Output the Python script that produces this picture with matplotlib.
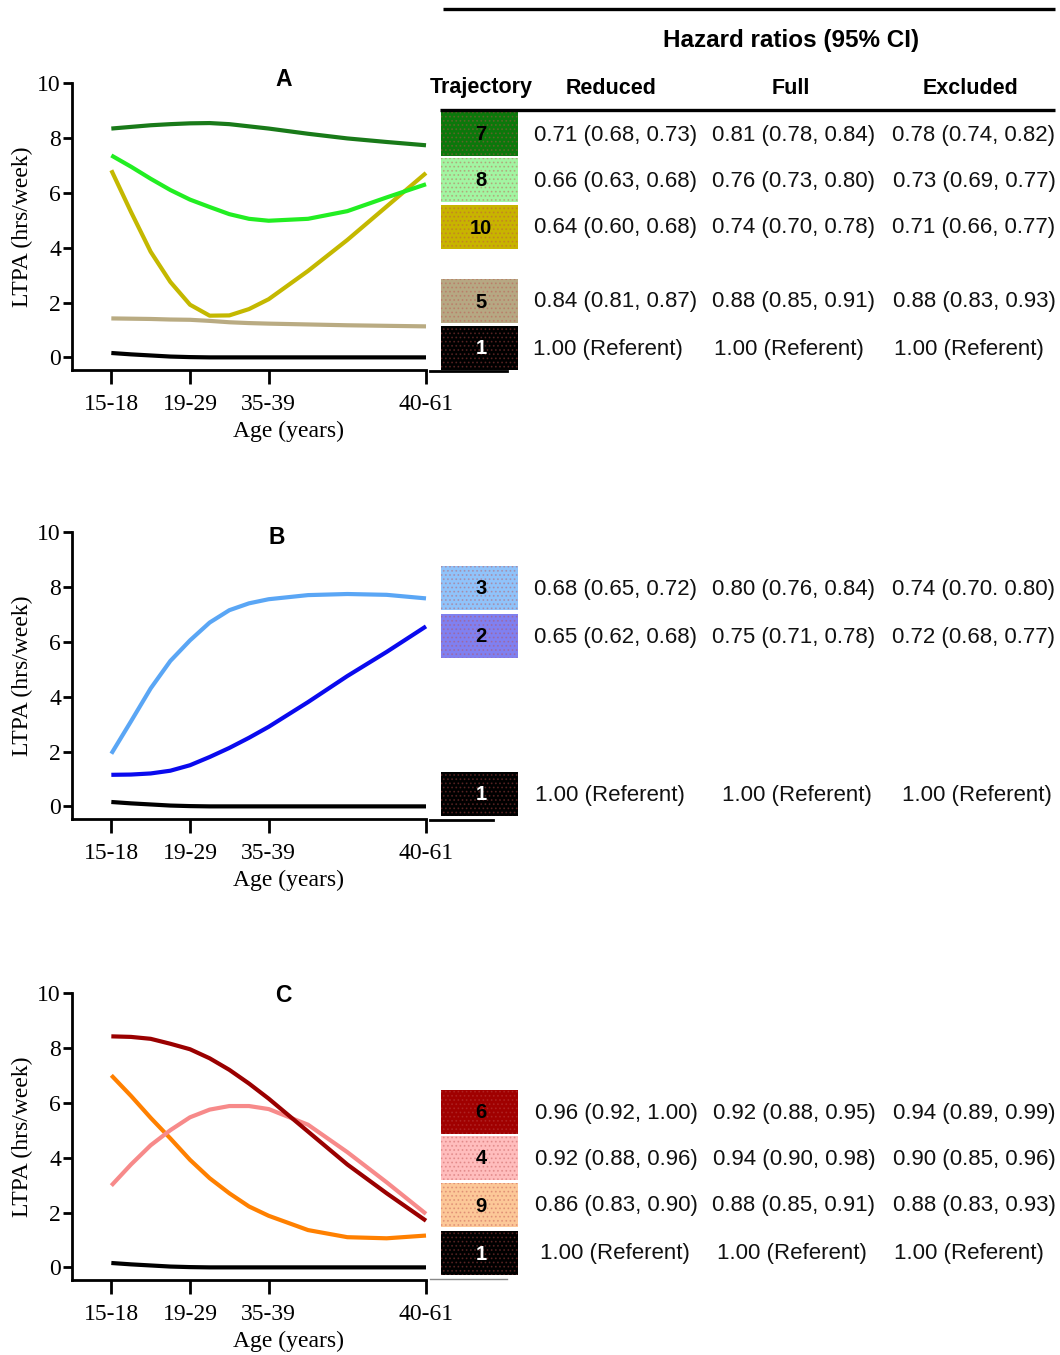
import matplotlib
matplotlib.use('Agg')
import matplotlib.pyplot as plt
from matplotlib.patches import Rectangle

# ---------------- data ----------------
age_labels = ['15-18', '19-29', '35-39', '40-61']
age_pos = [0, 1, 2, 4]
x_grid = [0, 0.25, 0.5, 0.75, 1, 1.25, 1.5, 1.75, 2, 2.5, 3, 3.5, 4]

traj1 = [0.16, 0.11, 0.07, 0.03, 0.01, 0.0, 0.0, 0.0, 0.0, 0.0, 0.0, 0.0, 0.0]
traj7 = [8.34, 8.40, 8.46, 8.50, 8.53, 8.54, 8.50, 8.42, 8.34, 8.15, 7.98, 7.85, 7.73]
traj8 = [7.36, 6.95, 6.51, 6.10, 5.75, 5.48, 5.22, 5.05, 4.98, 5.05, 5.33, 5.83, 6.31]
traj10 = [6.82, 5.30, 3.85, 2.75, 1.92, 1.52, 1.53, 1.76, 2.12, 3.15, 4.28, 5.50, 6.72]
traj5 = [1.42, 1.41, 1.40, 1.38, 1.37, 1.33, 1.28, 1.25, 1.23, 1.20, 1.17, 1.15, 1.13]
traj3 = [1.92, 3.10, 4.30, 5.30, 6.05, 6.70, 7.15, 7.40, 7.55, 7.70, 7.74, 7.71, 7.58]
traj2 = [1.15, 1.16, 1.20, 1.30, 1.50, 1.80, 2.13, 2.50, 2.90, 3.80, 4.75, 5.63, 6.56]
traj6 = [8.42, 8.40, 8.33, 8.15, 7.95, 7.62, 7.20, 6.70, 6.15, 4.95, 3.75, 2.70, 1.70]
traj4 = [2.98, 3.75, 4.45, 5.00, 5.47, 5.75, 5.88, 5.88, 5.77, 5.20, 4.20, 3.10, 1.95]
traj9 = [7.00, 6.25, 5.45, 4.70, 3.92, 3.25, 2.70, 2.22, 1.88, 1.36, 1.10, 1.06, 1.16]

series = {'1': traj1, '7': traj7, '8': traj8, '10': traj10, '5': traj5,
          '3': traj3, '2': traj2, '6': traj6, '4': traj4, '9': traj9}

panel_letters = ['A', 'B', 'C']
panel_traj = [['7', '8', '10', '5', '1'], ['3', '2', '1'], ['6', '4', '9', '1']]

reduced = [['0.71 (0.68, 0.73)', '0.66 (0.63, 0.68)', '0.64 (0.60, 0.68)', '0.84 (0.81, 0.87)', '1.00 (Referent)'],
           ['0.68 (0.65, 0.72)', '0.65 (0.62, 0.68)', '1.00 (Referent)'],
           ['0.96 (0.92, 1.00)', '0.92 (0.88, 0.96)', '0.86 (0.83, 0.90)', '1.00 (Referent)']]
full = [['0.81 (0.78, 0.84)', '0.76 (0.73, 0.80)', '0.74 (0.70, 0.78)', '0.88 (0.85, 0.91)', '1.00 (Referent)'],
        ['0.80 (0.76, 0.84)', '0.75 (0.71, 0.78)', '1.00 (Referent)'],
        ['0.92 (0.88, 0.95)', '0.94 (0.90, 0.98)', '0.88 (0.85, 0.91)', '1.00 (Referent)']]
excluded = [['0.78 (0.74, 0.82)', '0.73 (0.69, 0.77)', '0.71 (0.66, 0.77)', '0.88 (0.83, 0.93)', '1.00 (Referent)'],
            ['0.74 (0.70. 0.80)', '0.72 (0.68, 0.77)', '1.00 (Referent)'],
            ['0.94 (0.89, 0.99)', '0.90 (0.85, 0.96)', '0.88 (0.83, 0.93)', '1.00 (Referent)']]

col_headers = ['Trajectory', 'Reduced', 'Full', 'Excluded']
title_text = 'Hazard ratios (95% CI)'

# ---------------- styles / layout ----------------
line_colors = {'1': '#000000', '7': '#197a19', '8': '#22ee22', '10': '#c4b800', '5': '#b9ab82',
               '3': '#5aa6f5', '2': '#0a0aee', '6': '#9a0000', '4': '#f78a8a', '9': '#ff8000'}
box_colors = {'1': '#000000', '7': '#0b780b', '8': '#a2f5a2', '10': '#c8b400', '5': '#b6a883',
              '3': '#90c3fa', '2': '#8080f0', '6': '#a00000', '4': '#ffbdbd', '9': '#fcc898'}

W, H = 1060, 1355
panel_top_px = [83, 532, 993]
panel_h_px = 287
ax_left_px, ax_right_px = 72, 426
row_y_px = [[134, 180, 227, 301, 348], [588, 636, 794], [1112, 1158, 1205, 1253]]
stub_lines = [(371, 430, 507, 2.0, 'black'), (820, 430, 493, 2.0, 'black'), (1279, 430, 507, 1.0, '#888888')]
letter_xy_px = [(284, 80), (277, 537), (283, 995)]
val_cols = [616, 794, 974]
ref_cols = [[608, 789, 969], [610, 797, 977], [615, 792, 969]]

serif = ['Liberation Serif', 'DejaVu Serif']
sans = ['Liberation Sans', 'DejaVu Sans']
plt.rcParams['hatch.linewidth'] = 0.8

fig = plt.figure(figsize=(W / 100, H / 100), dpi=100)
ax_w = ax_right_px - ax_left_px

for p in range(3):
    top = panel_top_px[p]
    ax = fig.add_axes([ax_left_px / W, 1 - (top + panel_h_px) / H, ax_w / W, panel_h_px / H])
    ax.set_xlim(-0.5, 4.0)
    ax.set_ylim(-0.46, 10)
    for t in panel_traj[p][::-1]:
        ax.plot(x_grid, series[t], color=line_colors[t], lw=3.0, solid_capstyle='butt',
                solid_joinstyle='round', clip_on=False)
    ax.spines['top'].set_visible(False)
    ax.spines['right'].set_visible(False)
    ax.spines['left'].set_linewidth(2.0)
    ax.spines['bottom'].set_linewidth(2.0)
    ax.set_yticks([0, 2, 4, 6, 8, 10])
    ax.set_xticks(age_pos)
    ax.set_xticklabels(age_labels, fontfamily=serif, fontsize=17)
    for lab in ax.get_yticklabels():
        lab.set_fontfamily(serif)
        lab.set_fontsize(17)
    ax.tick_params(axis='y', direction='out', length=6.5, width=2, pad=1.5)
    ax.tick_params(axis='x', direction='out', length=10, width=2, pad=7)
    ax.set_xlabel('Age (years)', fontfamily=serif, fontsize=17)
    ax.xaxis.label.set_va('center')
    ax.xaxis.set_label_coords((289 - ax_left_px) / ax_w, -(431 - 370) / panel_h_px)
    ax.set_ylabel('LTPA (hrs/week)', fontfamily=serif, fontsize=17)
    ax.yaxis.label.set_va('center')
    ax.yaxis.set_label_coords(-(ax_left_px - 22) / ax_w, 0.5)

# overlay in pixel coordinates for table & letters
ov = fig.add_axes([0, 0, 1, 1])
ov.set_xlim(0, W)
ov.set_ylim(H, 0)
ov.axis('off')
ov.patch.set_visible(False)

ov.plot([443, 1055], [9, 9], color='black', lw=2.4, solid_capstyle='butt')
ov.text(791, 40, title_text, ha='center', va='center', fontsize=17.5, fontweight='bold', family=sans)
for hx, h in zip([481, 611, 791, 970], col_headers):
    ov.text(hx, 88, h, ha='center', va='center', fontsize=15.5, fontweight='bold', family=sans)
ov.plot([440, 1055], [110, 110], color='black', lw=2.4, solid_capstyle='butt')

for p in range(3):
    lx, ly = letter_xy_px[p]
    ov.text(lx, ly, panel_letters[p], ha='center', va='center',
            fontsize=16.5, fontweight='bold', family=sans)
    for i, t in enumerate(panel_traj[p]):
        yc = row_y_px[p][i]
        ov.add_patch(Rectangle((441, yc - 22), 77, 44, facecolor=box_colors[t],
                               edgecolor=(0.75, 0.3, 0.3, 0.35), linewidth=0, hatch='....'))
        ov.text(481, yc + 1, t, ha='center', va='center', fontsize=14.5, fontweight='bold',
                family=sans, color='white' if t == '1' else 'black')
        vals = [reduced[p][i], full[p][i], excluded[p][i]]
        cols = ref_cols[p] if 'Referent' in vals[0] else val_cols
        for cx, v in zip(cols, vals):
            ov.text(cx, yc + 1, v, ha='center', va='center', fontsize=16, family=sans, color='#111111')
    y0, x0, x1, lw, c = stub_lines[p]
    ov.plot([x0, x1], [y0, y0], color=c, lw=lw)

fig.savefig('out.png', dpi=100)
